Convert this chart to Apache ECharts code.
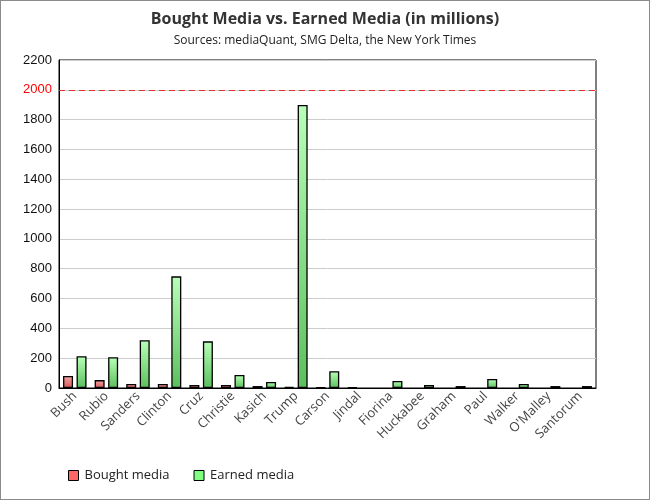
<!DOCTYPE html>
<html><head><meta charset="utf-8">
<script src="https://cdn.jsdelivr.net/npm/echarts@6/dist/echarts.min.js"></script>
<style>
html,body{margin:0;padding:0;background:#fff;}
#c{width:650px;height:500px;box-sizing:border-box;border:1px solid #8a8a8a;}
</style></head>
<body><div id="c"></div>
<script>
var categories = ['Bush','Rubio','Sanders','Clinton','Cruz','Christie','Kasich','Trump','Carson','Jindal','Fiorina','Huckabee','Graham','Paul','Walker',"O'Malley",'Santorum'];
var boughtMedia = [80, 53, 27, 27, 20, 20, 13, 7, 5, 5, 0, 0, 0, 0, 0, 0, 0];
var earnedMedia = [213, 207, 320, 749, 313, 87, 40, 1898, 113, 0, 47, 20, 13, 60, 27, 13, 13];
var yTicks = {min: 0, max: 2200, interval: 200};

function hideZero(arr){ return arr.map(function(v){ return v === 0 ? '-' : v; }); }

var chart = echarts.init(document.getElementById('c'));
var redGrad = {type:'linear',x:0,y:0,x2:0,y2:1,colorStops:[{offset:0,color:'#f5a5a5'},{offset:1,color:'#d65a5a'}]};
var greenGrad = {type:'linear',x:0,y:0,x2:0,y2:1,colorStops:[{offset:0,color:'#b8ffb8'},{offset:1,color:'#5cbf5c'}]};
chart.setOption({
  animation:false,
  title:{
    text:'Bought Media vs. Earned Media (in millions)',
    subtext:'Sources: mediaQuant, SMG Delta, the New York Times',
    left:'center', top:5, itemGap:8,
    textStyle:{fontFamily:'Open Sans',fontSize:16,fontWeight:'bold',color:'#333'},
    subtextStyle:{fontFamily:'Open Sans',fontSize:12,fontWeight:'normal',color:'#222'}
  },
  legend:{
    left:62, top:463, itemWidth:10, itemHeight:10, itemGap:24,
    textStyle:{fontFamily:'Open Sans',fontSize:13,color:'#222',padding:[0,0,0,1]},
    data:[
      {name:'Bought media',icon:'rect',itemStyle:{color:'#ff6666',borderColor:'#000',borderWidth:1}},
      {name:'Earned media',icon:'rect',itemStyle:{color:'#80ff80',borderColor:'#000',borderWidth:1}}
    ]
  },
  grid:{left:58,right:53,top:59,bottom:111,show:true,borderColor:'#000',borderWidth:1},
  xAxis:{
    type:'category', data:categories,
    axisLine:{lineStyle:{color:'#000',width:1}},
    axisTick:{show:false},
    axisLabel:{rotate:45,interval:0,fontFamily:'Open Sans',fontSize:13,color:'#444',margin:6}
  },
  yAxis:{
    type:'value', min:yTicks.min, max:yTicks.max, interval:yTicks.interval,
    axisLine:{show:true,lineStyle:{color:'#000'}},
    axisTick:{show:false},
    splitLine:{lineStyle:{color:'#cccccc'}},
    axisLabel:{fontFamily:'Liberation Sans',fontSize:13,margin:7,
      formatter:function(v){return String(v);},
      color:function(v){return Number(v)===2000?'#ff0000':'#111';}}
  },
  series:[
    {name:'Bought media',type:'bar',data:hideZero(boughtMedia),barWidth:10,barGap:'35%',
     itemStyle:{color:redGrad,borderColor:'#000',borderWidth:1.3},
     markLine:{silent:true,symbol:'none',label:{show:false},
       lineStyle:{color:'#e03030',type:[6,4],width:1},
       data:[{yAxis:2000}]}},
    {name:'Earned media',type:'bar',data:hideZero(earnedMedia),barWidth:10,
     itemStyle:{color:greenGrad,borderColor:'#000',borderWidth:1.3}}
  ]
});
</script></body></html>
